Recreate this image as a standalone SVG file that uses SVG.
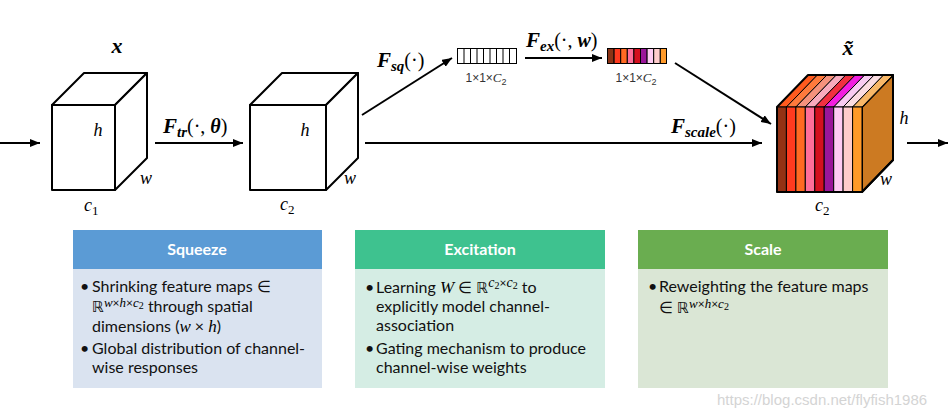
<svg xmlns="http://www.w3.org/2000/svg" width="948" height="419" viewBox="0 0 948 419">
<defs>
<marker id="ah" markerUnits="userSpaceOnUse" markerWidth="10" markerHeight="8" refX="10" refY="4" orient="auto"><path d="M0,0 L10,4 L0,8 z" fill="#000"/></marker>
<style>
.cube{fill:#fff;stroke:#000;stroke-width:2;stroke-linejoin:round}
.cn{stroke:#000;stroke-width:2;fill:none;marker-end:url(#ah)}
.m{font-family:"Liberation Serif","DejaVu Serif",serif;font-style:italic;fill:#000}
.mb{font-family:"Liberation Serif","DejaVu Serif",serif;font-style:italic;font-weight:bold;fill:#000}
.mr{font-family:"Liberation Serif","DejaVu Serif",serif;fill:#000}
.hd{font-family:Lato,"Open Sans",sans-serif;font-weight:bold;font-size:16px;fill:#fff;text-anchor:middle}
.bt{font-family:Lato,"Open Sans",sans-serif;font-size:16px;fill:#111}
.sm{font-family:"Liberation Sans",sans-serif;font-size:12px;fill:#333;text-anchor:middle}
.cell{stroke:#000;stroke-width:1}
</style>
</defs>
<rect width="948" height="419" fill="#fff"/>

<g id="connectors">
<line class="cn" x1="0" y1="143" x2="40" y2="143"/>
<line class="cn" x1="155" y1="143" x2="243" y2="143"/>
<line class="cn" x1="362" y1="115" x2="452" y2="58"/>
<line class="cn" x1="365" y1="143" x2="762" y2="143"/>
<line class="cn" x1="525" y1="58" x2="602" y2="58"/>
<line class="cn" x1="675" y1="63" x2="771" y2="124"/>
<line class="cn" x1="907" y1="143" x2="948" y2="143"/>
</g>

<g id="labels">
<text x="163" y="133"><tspan class="mb" font-size="21">F</tspan><tspan class="mb" font-size="15" dy="4">tr</tspan><tspan class="mr" font-size="20" dy="-4">(·, </tspan><tspan class="mb" font-size="20">θ</tspan><tspan class="mr" font-size="20">)</tspan></text>
<text x="377" y="67"><tspan class="mb" font-size="21">F</tspan><tspan class="mb" font-size="15" dy="4">sq</tspan><tspan class="mr" font-size="20" dy="-4">(·)</tspan></text>
<text x="526" y="47"><tspan class="mb" font-size="21">F</tspan><tspan class="mb" font-size="15" dy="4">ex</tspan><tspan class="mr" font-size="20" dy="-4">(·, </tspan><tspan class="mb" font-size="20">w</tspan><tspan class="mr" font-size="20">)</tspan></text>
<text x="671" y="133"><tspan class="mb" font-size="21">F</tspan><tspan class="mb" font-size="15" dy="4">scale</tspan><tspan class="mr" font-size="20" dy="-4">(·)</tspan></text>
</g>

<g id="cube-x">
<rect class="cube" x="52" y="105" width="63" height="85"/>
<polygon class="cube" points="52,105 84,73 147,73 115,105"/>
<polygon class="cube" points="115,105 147,73 147,158 115,190"/>
<text class="mb" x="117" y="53" font-size="22" text-anchor="middle">x</text>
<text class="m" x="98" y="136" font-size="18" text-anchor="middle">h</text>
<text class="m" x="146" y="184" font-size="18" text-anchor="middle">w</text>
<text x="84" y="211"><tspan class="m" font-size="18">c</tspan><tspan class="mr" font-size="13" dy="4">1</tspan></text>
</g>

<g id="cube-u">
<rect class="cube" x="250" y="105" width="76" height="85"/>
<polygon class="cube" points="250,105 282,73 358,73 326,105"/>
<polygon class="cube" points="326,105 358,73 358,158 326,190"/>
<text class="m" x="305" y="136" font-size="18" text-anchor="middle">h</text>
<text class="m" x="350" y="184" font-size="18" text-anchor="middle">w</text>
<text x="280" y="210"><tspan class="m" font-size="18">c</tspan><tspan class="mr" font-size="13" dy="4">2</tspan></text>
</g>

<g id="vec-squeeze">
<rect x="457.5" y="48.5" width="59" height="15" fill="#fff" stroke="#000" stroke-width="1"/>
<path d="M464,48.5V63.5M470.5,48.5V63.5M477,48.5V63.5M483.5,48.5V63.5M490,48.5V63.5M496.5,48.5V63.5M503,48.5V63.5M509.5,48.5V63.5" stroke="#000" stroke-width="1"/>
<text class="sm" x="486" y="82">1×1×<tspan font-family="Liberation Serif,serif" font-style="italic" font-size="13">C</tspan><tspan font-size="9" dy="3">2</tspan></text>
</g>

<g id="vec-excite">
<rect class="cell" x="607.5" y="48.5" width="6.6" height="15" fill="#8B3315"/>
<rect class="cell" x="614.1" y="48.5" width="6.6" height="15" fill="#FF3A1F"/>
<rect class="cell" x="620.7" y="48.5" width="6.6" height="15" fill="#FF6A22"/>
<rect class="cell" x="627.3" y="48.5" width="6.6" height="15" fill="#FF6F9A"/>
<rect class="cell" x="633.9" y="48.5" width="6.6" height="15" fill="#D4101E"/>
<rect class="cell" x="640.5" y="48.5" width="6.6" height="15" fill="#9A169A"/>
<rect class="cell" x="647.1" y="48.5" width="6.6" height="15" fill="#FFCCF4"/>
<rect class="cell" x="653.7" y="48.5" width="6.6" height="15" fill="#FFCCCC"/>
<rect class="cell" x="660.3" y="48.5" width="6.2" height="15" fill="#FF9A2A"/>
<text class="sm" x="636" y="82">1×1×<tspan font-family="Liberation Serif,serif" font-style="italic" font-size="13">C</tspan><tspan font-size="9" dy="3">2</tspan></text>
</g>

<g id="cube-xtilde">
<polygon points="862,107 893,75 893,160 862,192" fill="#CC7A22" stroke="#000" stroke-width="2" stroke-linejoin="round"/>
<g stroke="#000" stroke-width="1">
<polygon points="777,107 808,75 817.4,75 786.4,107" fill="#FF5A1E"/>
<polygon points="786.4,107 817.4,75 826.9,75 795.9,107" fill="#FF7A3C"/>
<polygon points="795.9,107 826.9,75 836.3,75 805.3,107" fill="#F5927C"/>
<polygon points="805.3,107 836.3,75 845.8,75 814.8,107" fill="#F8ABBE"/>
<polygon points="814.8,107 845.8,75 855.2,75 824.2,107" fill="#F03040"/>
<polygon points="824.2,107 855.2,75 864.7,75 833.7,107" fill="#F21EE0"/>
<polygon points="833.7,107 864.7,75 874.1,75 843.1,107" fill="#F8CCF2"/>
<polygon points="843.1,107 874.1,75 883.6,75 852.6,107" fill="#FBDDE2"/>
<polygon points="852.6,107 883.6,75 893,75 862,107" fill="#F8B868"/>
<rect x="777" y="107" width="9.4" height="85" fill="#933214"/>
<rect x="786.4" y="107" width="9.5" height="85" fill="#FF3A1F"/>
<rect x="795.9" y="107" width="9.4" height="85" fill="#FF6A22"/>
<rect x="805.3" y="107" width="9.5" height="85" fill="#FF6F9A"/>
<rect x="814.8" y="107" width="9.4" height="85" fill="#D4101E"/>
<rect x="824.2" y="107" width="9.5" height="85" fill="#9A169A"/>
<rect x="833.7" y="107" width="9.4" height="85" fill="#FFCCF4"/>
<rect x="843.1" y="107" width="9.5" height="85" fill="#FFCCCC"/>
<rect x="852.6" y="107" width="9.4" height="85" fill="#FF9A2A"/>
</g>
<polygon points="777,107 808,75 893,75 893,160 862,192 777,192" fill="none" stroke="#000" stroke-width="2" stroke-linejoin="round"/>
<text class="mb" x="848" y="55" font-size="22" text-anchor="middle">x̃</text>
<text class="m" x="904" y="124" font-size="18" text-anchor="middle">h</text>
<text class="m" x="886" y="185" font-size="18" text-anchor="middle">w</text>
<text x="815" y="211"><tspan class="m" font-size="18">c</tspan><tspan class="mr" font-size="13" dy="4">2</tspan></text>
</g>

<g id="box-squeeze">
<rect x="73" y="230" width="249" height="158" fill="#DAE3F0"/>
<rect x="73" y="230" width="249" height="39" fill="#5B9BD5"/>
<text class="hd" x="197" y="255">Squeeze</text>
<text class="bt" x="80" y="292">•</text>
<text class="bt" x="92" y="292">Shrinking feature maps ∈</text>
<text class="bt" x="92" y="312"><tspan font-family="DejaVu Sans,sans-serif" font-size="15">ℝ</tspan><tspan class="m" font-size="13" dy="-5">w</tspan><tspan font-size="12" dy="0">×</tspan><tspan class="m" font-size="13">h</tspan><tspan font-size="12">×</tspan><tspan class="m" font-size="13">c</tspan><tspan class="mr" font-size="10" dy="2">2</tspan><tspan dy="3"> through spatial</tspan></text>
<text class="bt" x="92" y="332">dimensions (<tspan class="m" font-size="17">w</tspan> × <tspan class="m" font-size="17">h</tspan>)</text>
<text class="bt" x="80" y="354">•</text>
<text class="bt" x="92" y="354">Global distribution of channel-</text>
<text class="bt" x="92" y="373">wise responses</text>
</g>

<g id="box-excitation">
<rect x="355" y="230" width="250" height="158" fill="#D5EDE4"/>
<rect x="355" y="230" width="250" height="39" fill="#3EC28F"/>
<text class="hd" x="480" y="255">Excitation</text>
<text class="bt" x="365" y="293">•</text>
<text class="bt" x="376" y="293">Learning <tspan class="m" font-size="17">W</tspan> ∈ <tspan font-family="DejaVu Sans,sans-serif" font-size="15">ℝ</tspan><tspan class="m" font-size="14" dy="-6">c</tspan><tspan class="mr" font-size="10" dy="2">2</tspan><tspan font-size="12" dy="-2">×</tspan><tspan class="m" font-size="14">c</tspan><tspan class="mr" font-size="10" dy="2">2</tspan><tspan dy="4"> to</tspan></text>
<text class="bt" x="376" y="312">explicitly model channel-</text>
<text class="bt" x="376" y="331">association</text>
<text class="bt" x="365" y="354">•</text>
<text class="bt" x="376" y="354">Gating mechanism to produce</text>
<text class="bt" x="376" y="373">channel-wise weights</text>
</g>

<g id="box-scale">
<rect x="638" y="230" width="250" height="158" fill="#DAE6D5"/>
<rect x="638" y="230" width="250" height="39" fill="#6AAD50"/>
<text class="hd" x="763" y="255">Scale</text>
<text class="bt" x="648" y="292">•</text>
<text class="bt" x="659" y="292">Reweighting the feature maps</text>
<text class="bt" x="659" y="313">∈ <tspan font-family="DejaVu Sans,sans-serif" font-size="15">ℝ</tspan><tspan class="m" font-size="13" dy="-5">w</tspan><tspan font-size="12">×</tspan><tspan class="m" font-size="13">h</tspan><tspan font-size="12">×</tspan><tspan class="m" font-size="13">c</tspan><tspan class="mr" font-size="10" dy="2">2</tspan></text>
</g>

<text x="717" y="405" font-family="Liberation Sans,sans-serif" font-size="15" fill="#D4D4D4">https://blog.csdn.net/flyfish1986</text>
</svg>
